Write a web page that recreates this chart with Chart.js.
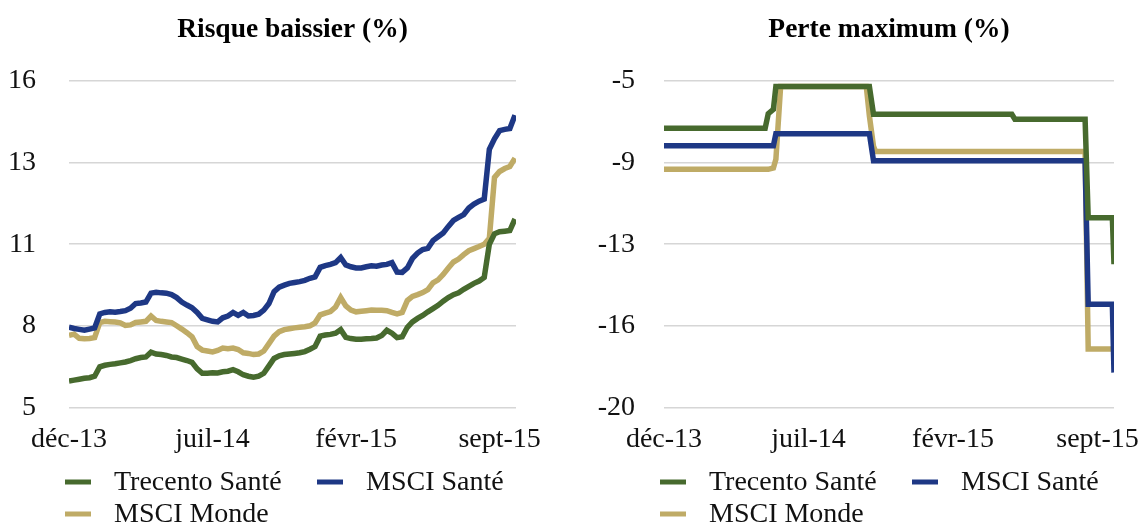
<!DOCTYPE html>
<html>
<head>
<meta charset="utf-8">
<script src="https://cdn.jsdelivr.net/npm/chart.js@4.4.1/dist/chart.umd.min.js"></script>
<style>
  html, body { margin: 0; padding: 0; background: #fff; }
  .wrap { display: flex; width: 1139px; height: 525px; }
  .box { position: relative; height: 525px; }
  #left { width: 570px; }
  #right { width: 569px; }
</style>
</head>
<body>
<div class="wrap">
  <div class="box" id="left"><canvas id="riskChart"></canvas></div>
  <div class="box" id="right"><canvas id="lossChart"></canvas></div>
</div>
<script>
// x axis: months since déc-13
const dateLabels = ['déc-13', 'juil-14', 'févr-15', 'sept-15'];
const dateTickMonths = [0, 7, 14, 21];

const seriesNames = ['Trecento Santé', 'MSCI Santé', 'MSCI Monde'];
const seriesColors = ['#476a2e', '#1e3885', '#bfab66'];

// Risque baissier (%), one reading every quarter month
const trecentoRisk = [
  5.89, 5.92, 5.95, 5.98, 6.0, 6.05, 6.37, 6.42, 6.45, 6.47, 6.5, 6.53,
  6.58, 6.64, 6.68, 6.7, 6.86, 6.8, 6.78, 6.75, 6.7, 6.68, 6.63, 6.58,
  6.52, 6.3, 6.15, 6.15, 6.17, 6.16, 6.2, 6.22, 6.27, 6.2, 6.1, 6.05,
  6.02, 6.05, 6.15, 6.4, 6.65, 6.74, 6.78, 6.8, 6.82, 6.84, 6.88, 6.96,
  7.05, 7.4, 7.44, 7.46, 7.5, 7.62, 7.36, 7.32, 7.3, 7.3, 7.31, 7.32,
  7.34, 7.42, 7.6, 7.5, 7.35, 7.38, 7.7, 7.88, 8.0, 8.1, 8.22, 8.33,
  8.44, 8.58, 8.7, 8.8, 8.86, 8.98, 9.08, 9.18, 9.26, 9.38, 10.5, 10.85,
  10.92, 10.94, 10.96, 11.35
];
const msciSanteRisk = [
  7.70, 7.66, 7.63, 7.60, 7.64, 7.68, 8.15, 8.2, 8.22, 8.21, 8.23, 8.26,
  8.34, 8.5, 8.52, 8.55, 8.85, 8.88, 8.86, 8.85, 8.8, 8.7, 8.55, 8.45,
  8.36, 8.2, 8.0, 7.95, 7.9, 7.88, 8.02, 8.08, 8.2, 8.1, 8.2, 8.08,
  8.1, 8.14, 8.28, 8.5, 8.9, 9.05, 9.12, 9.18, 9.21, 9.24, 9.28, 9.35,
  9.4, 9.72, 9.78, 9.82, 9.88, 10.05, 9.8, 9.74, 9.7, 9.7, 9.74, 9.77,
  9.76, 9.8, 9.82, 9.88, 9.56, 9.55, 9.7, 10.02, 10.2, 10.32, 10.36, 10.62,
  10.75, 10.88, 11.1, 11.3, 11.4, 11.5, 11.72, 11.85, 11.95, 12.02, 13.7, 14.05,
  14.33, 14.37, 14.4, 14.85
];
const msciMondeRisk = [
  7.43, 7.47, 7.33, 7.31, 7.32, 7.35, 7.86, 7.9, 7.89, 7.88, 7.85, 7.76,
  7.78, 7.86, 7.88, 7.9, 8.08, 7.93, 7.9, 7.88, 7.86, 7.75, 7.64, 7.52,
  7.38, 7.05, 6.93, 6.9, 6.87, 6.92, 7.0, 6.98, 7.0, 6.95, 6.84, 6.82,
  6.78, 6.8, 6.9, 7.15, 7.4, 7.55, 7.62, 7.65, 7.68, 7.7, 7.72, 7.75,
  7.85, 8.12, 8.18, 8.23, 8.38, 8.7, 8.42, 8.28, 8.22, 8.24, 8.26, 8.28,
  8.27, 8.27, 8.26, 8.2, 8.15, 8.2, 8.6, 8.74, 8.8, 8.87, 8.97, 9.2,
  9.3, 9.48, 9.7, 9.9, 10.0, 10.15, 10.28, 10.35, 10.42, 10.5, 10.7, 12.75,
  12.95, 13.05, 13.12, 13.4
];
const riskMonths = trecentoRisk.map((_, i) => i * 0.25);
const riskTickLabels = ['5', '8', '11', '13', '16'];

// Perte maximum (%), read at each change point
const lossMonths = [0, 4.9, 5.05, 5.3, 5.42, 5.65, 9.8, 9.95, 10.15, 10.25, 16.85, 17.0, 20.4, 20.55, 21.72, 21.8];
const trecentoLoss = [-7.17, -7.17, -6.5, -6.3, -5.25, -5.25, -5.25, -5.25, -6.53, -6.53, -6.53, -6.76, -6.76, -11.28, -11.28, -13.42];
const msciSanteLoss = [-7.98, -7.98, -7.98, -7.98, -7.42, -7.42, -7.42, -7.42, -8.67, -8.67, -8.67, -8.67, -8.67, -15.26, -15.26, -18.4];
const msciMondeLoss = [-9.06, -9.06, -9.06, -9.0, -8.6, -5.25, -5.25, -6.6, -8.0, -8.24, -8.24, -8.24, -8.24, -17.32, -17.32, -17.32];
const lossTickLabels = ['-20', '-16', '-13', '-9', '-5'];

Chart.defaults.font.family = '"Liberation Serif", "Times New Roman", serif';
Chart.defaults.color = '#111';

// legend drawn in two rows under the x axis, like the original
const rowLegend = {
  id: 'rowLegend',
  afterDraw(chart) {
    const ctx = chart.ctx;
    const left = chart.chartArea.left;
    const slots = [[-4, 482], [248, 482], [-4, 514]];
    ctx.save();
    ctx.font = '28px "Liberation Serif", serif';
    ctx.textBaseline = 'middle';
    chart.data.datasets.forEach((ds, i) => {
      const [dx, y] = slots[i];
      ctx.strokeStyle = ds.borderColor;
      ctx.lineWidth = 5;
      ctx.beginPath();
      ctx.moveTo(left + dx, y);
      ctx.lineTo(left + dx + 26, y);
      ctx.stroke();
      ctx.fillStyle = '#111';
      ctx.fillText(ds.label, left + dx + 49, y + 1);
    });
    ctx.restore();
  }
};

function makeDatasets(xs, seriesList) {
  return seriesList.map((values, i) => ({
    label: seriesNames[i],
    data: values.map((v, j) => ({ x: xs[j], y: v })),
    borderColor: seriesColors[i],
    backgroundColor: seriesColors[i],
    borderWidth: 5.5,
    pointRadius: 0,
    tension: 0
  }));
}

function createLineChart(canvasId, title, datasets, yMin, yMax, yStep, yLabels, axisWidth, labelGap, rightPad) {
  const ctx = document.getElementById(canvasId).getContext('2d');
  return new Chart(ctx, {
    type: 'line',
    data: { datasets: datasets },
    plugins: [rowLegend],
    options: {
      responsive: true,
      maintainAspectRatio: false,
      animation: false,
      layout: { padding: { left: 0, right: rightPad, top: 0, bottom: 54 } },
      plugins: {
        legend: { display: false },
        tooltip: { enabled: false },
        title: {
          display: true,
          text: title,
          fullSize: false,
          color: '#000',
          font: { size: 27.5, weight: 'bold', lineHeight: 1.2 },
          padding: { top: 13, bottom: 35 }
        }
      },
      scales: {
        x: {
          type: 'linear',
          min: 0,
          max: 21.8,
          grid: { display: false, drawTicks: false },
          border: { display: false },
          afterBuildTicks: (scale) => {
            scale.ticks = dateTickMonths.map(v => ({ value: v }));
          },
          afterFit: (scale) => {
            // let the last label run into the margin instead of shrinking the plot
            scale.paddingLeft = 0;
            scale.paddingRight = 0;
          },
          ticks: {
            padding: 15,
            maxRotation: 0,
            font: { size: 28 },
            callback: (value, index) => dateLabels[index]
          }
        },
        y: {
          min: yMin,
          max: yMax,
          afterFit: (scale) => { scale.width = axisWidth; },
          grid: { color: '#d6d6d6', lineWidth: 1.5, drawTicks: false },
          border: { display: false },
          ticks: {
            stepSize: yStep,
            padding: labelGap,
            font: { size: 28 },
            callback: (value, index) => yLabels[index]
          }
        }
      }
    }
  });
}

createLineChart('riskChart', 'Risque baissier (%)',
  makeDatasets(riskMonths, [trecentoRisk, msciSanteRisk, msciMondeRisk]),
  5, 16, 2.75, riskTickLabels, 69, 33, 54);

createLineChart('lossChart', 'Perte maximum (%)',
  makeDatasets(lossMonths, [trecentoLoss, msciSanteLoss, msciMondeLoss]),
  -20, -5, 3.75, lossTickLabels, 94, 29, 25);
</script>
</body>
</html>
